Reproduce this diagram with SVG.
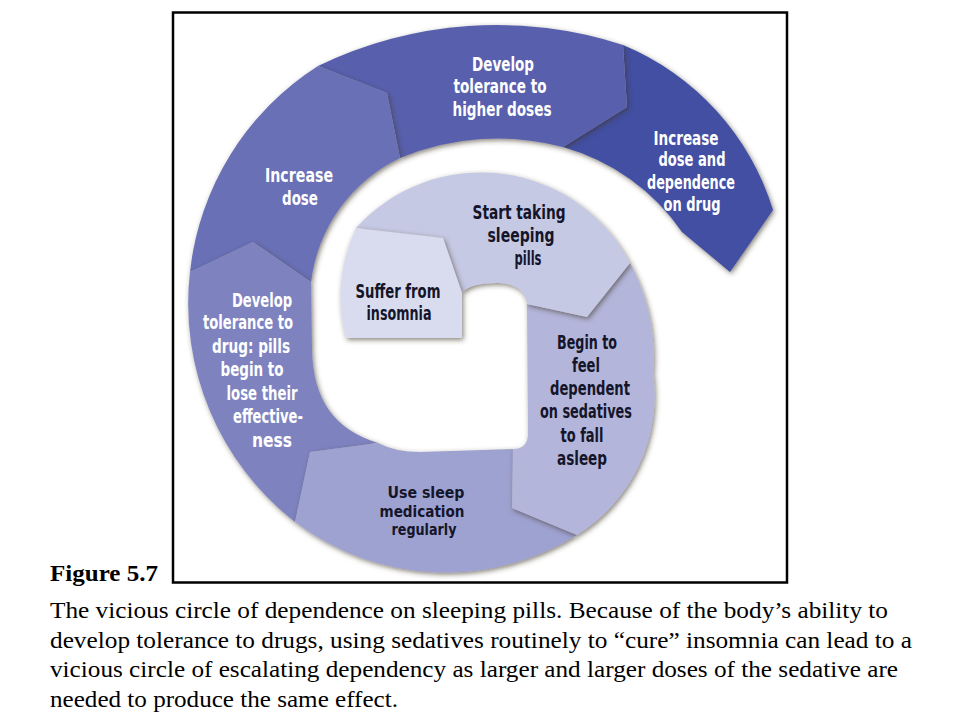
<svg xmlns="http://www.w3.org/2000/svg" width="960" height="720" viewBox="0 0 960 720">
<style>
.lbl{font-family:"DejaVu Sans Condensed","Liberation Sans",sans-serif;font-weight:bold;font-size:19px;text-anchor:middle}
.sm{font-size:16.5px}
.dk{fill:#15152a}
.wt{fill:#ffffff}
.seg{filter:url(#sh)}
.cap{font-family:"Liberation Serif","Times New Roman",serif;font-size:24px;fill:#000}
</style>
<defs>
<filter id="sh" x="-15%" y="-15%" width="130%" height="130%">
<feDropShadow dx="1.5" dy="2" stdDeviation="2.5" flood-color="#3b3426" flood-opacity="0.6"/>
</filter>
</defs>
<rect x="0" y="0" width="960" height="720" fill="#ffffff"/>
<rect x="173" y="12.5" width="614" height="570" fill="#ffffff" stroke="#000000" stroke-width="2.5"/>

<g id="n8-increase-dose-dependence">
<path class="seg" fill="#4250a2" d="M623,45 A262,262 0 0 1 773,210 L730,272 L682,232 A215,215 0 0 0 563,147 L627,107 Z"/>
<text class="lbl wt" x="686" y="145" textLength="65" lengthAdjust="spacingAndGlyphs">Increase</text>
<text class="lbl wt" x="692" y="166" textLength="67" lengthAdjust="spacingAndGlyphs">dose and</text>
<text class="lbl wt" x="691" y="189" textLength="88" lengthAdjust="spacingAndGlyphs">dependence</text>
<text class="lbl wt" x="692" y="211" textLength="57" lengthAdjust="spacingAndGlyphs">on drug</text>
</g>
<g id="n7-develop-tolerance-higher">
<path class="seg" fill="#5961ad" d="M318,66 A409,409 0 0 1 623,45 L627,107 L563,147 A254,254 0 0 0 400,158 L387,93 Z"/>
<text class="lbl wt" x="503" y="71" textLength="62" lengthAdjust="spacingAndGlyphs">Develop</text>
<text class="lbl wt" x="500" y="93" textLength="93" lengthAdjust="spacingAndGlyphs">tolerance to</text>
<text class="lbl wt" x="502" y="116" textLength="99" lengthAdjust="spacingAndGlyphs">higher doses</text>
</g>
<g id="n6-increase-dose">
<path class="seg" fill="#6970b6" d="M190,272 A280,280 0 0 1 318,66 L387,93 L400,158 A158,158 0 0 0 311,282 L253,242 Z"/>
<text class="lbl wt" x="299" y="182" textLength="68" lengthAdjust="spacingAndGlyphs">Increase</text>
<text class="lbl wt" x="300" y="205" textLength="36" lengthAdjust="spacingAndGlyphs">dose</text>
</g>
<g id="n5-develop-tolerance-drug">
<path class="seg" fill="#7e83c0" d="M295,522 A277,277 0 0 1 190,272 L253,242 L311,282 L312,350 C313,400 335,430 378,443 L310,452 Z"/>
<text class="lbl wt" x="262" y="307" textLength="60" lengthAdjust="spacingAndGlyphs">Develop</text>
<text class="lbl wt" x="248" y="329" textLength="90" lengthAdjust="spacingAndGlyphs">tolerance to</text>
<text class="lbl wt" x="251" y="353" textLength="78" lengthAdjust="spacingAndGlyphs">drug: pills</text>
<text class="lbl wt" x="252" y="376" textLength="63" lengthAdjust="spacingAndGlyphs">begin to</text>
<text class="lbl wt" x="262" y="400" textLength="71" lengthAdjust="spacingAndGlyphs">lose their</text>
<text class="lbl wt" x="268" y="423" textLength="70" lengthAdjust="spacingAndGlyphs">effective-</text>
<text class="lbl wt" x="272" y="447" textLength="40" lengthAdjust="spacingAndGlyphs">ness</text>
</g>
<g id="n4-use-sleep-medication">
<path class="seg" fill="#9ea2d0" d="M577,535 A249,249 0 0 1 295,522 L310,452 L378,443 Q395,452 420,452 L513,449 L512,508 Z"/>
<text class="lbl sm dk" x="426" y="498" textLength="77" lengthAdjust="spacingAndGlyphs">Use sleep</text>
<text class="lbl sm dk" x="422" y="517" textLength="85" lengthAdjust="spacingAndGlyphs">medication</text>
<text class="lbl sm dk" x="424" y="535" textLength="65" lengthAdjust="spacingAndGlyphs">regularly</text>
</g>
<g id="n3-begin-to-feel-dependent">
<path class="seg" fill="#b3b6da" d="M630,263 A200,200 0 0 1 653,373 A164,164 0 0 1 577,535 L512,508 L513,449 Q528,449 528,433 L527,304 L587,317 Z"/>
<text class="lbl dk" x="587" y="349" textLength="60" lengthAdjust="spacingAndGlyphs">Begin to</text>
<text class="lbl dk" x="586" y="372" textLength="28" lengthAdjust="spacingAndGlyphs">feel</text>
<text class="lbl dk" x="590" y="395" textLength="80" lengthAdjust="spacingAndGlyphs">dependent</text>
<text class="lbl dk" x="586" y="418" textLength="92" lengthAdjust="spacingAndGlyphs">on sedatives</text>
<text class="lbl dk" x="582" y="442" textLength="43" lengthAdjust="spacingAndGlyphs">to fall</text>
<text class="lbl dk" x="582" y="465" textLength="50" lengthAdjust="spacingAndGlyphs">asleep</text>
</g>
<g id="n2-start-taking-pills">
<path class="seg" fill="#c6c9e4" d="M356,228 A168,168 0 0 1 630,263 L587,317 L527,304 C526,290 514,283 496,283 C478,283 466,287 462,293 L443,238 Z"/>
<text class="lbl dk" x="519" y="219" textLength="93" lengthAdjust="spacingAndGlyphs">Start taking</text>
<text class="lbl dk" x="521" y="242" textLength="67" lengthAdjust="spacingAndGlyphs">sleeping</text>
<text class="lbl dk" x="528" y="265" textLength="27" lengthAdjust="spacingAndGlyphs">pills</text>
</g>
<g id="n1-suffer-from-insomnia">
<path class="seg" fill="#d9dcee" d="M346,338 A158,158 0 0 1 356,228 L443,238 L462,293 L462,338 Z"/>
<text class="lbl dk" x="398" y="298" textLength="85" lengthAdjust="spacingAndGlyphs">Suffer from</text>
<text class="lbl dk" x="399" y="320" textLength="65" lengthAdjust="spacingAndGlyphs">insomnia</text>
</g>
<g id="connectors"></g>

<g id="caption">
<text class="cap" x="50" y="581" font-weight="bold" textLength="108" lengthAdjust="spacingAndGlyphs">Figure 5.7</text>
<text class="cap" x="50" y="618" textLength="838" lengthAdjust="spacingAndGlyphs">The vicious circle of dependence on sleeping pills. Because of the body’s ability to</text>
<text class="cap" x="50" y="648" textLength="862" lengthAdjust="spacingAndGlyphs">develop tolerance to drugs, using sedatives routinely to “cure” insomnia can lead to a</text>
<text class="cap" x="50" y="677" textLength="848" lengthAdjust="spacingAndGlyphs">vicious circle of escalating dependency as larger and larger doses of the sedative are</text>
<text class="cap" x="50" y="707" textLength="348" lengthAdjust="spacingAndGlyphs">needed to produce the same effect.</text>
</g>
</svg>
